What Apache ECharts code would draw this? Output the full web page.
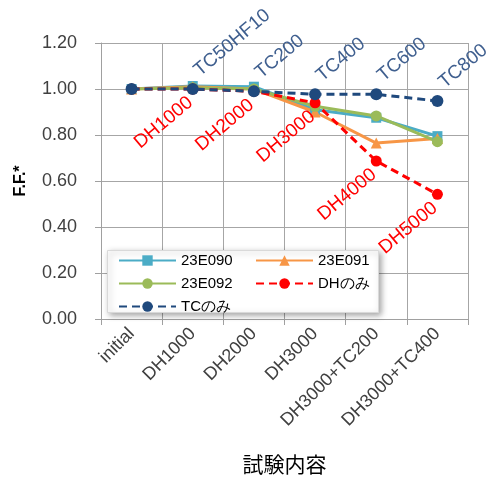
<!DOCTYPE html>
<html>
<head>
<meta charset="utf-8">
<script src="https://cdn.jsdelivr.net/npm/echarts@6/dist/echarts.min.js"></script>
<style>
html,body{margin:0;padding:0;background:#fff;}
#chart{width:494px;height:481px;}
</style>
</head>
<body>
<div id="chart"></div>
<script>
const categories = ['initial', 'DH1000', 'DH2000', 'DH3000', 'DH3000+TC200', 'DH3000+TC400'];
const s23E090 = [1.00, 1.013, 1.01, 0.91, 0.875, 0.795];
const s23E091 = [1.00, 1.01, 1.00, 0.90, 0.765, 0.785];
const s23E092 = [1.00, 1.005, 1.00, 0.925, 0.883, 0.771];
const dhOnly = [1.00, 1.00, 0.99, 0.94, 0.687, 0.542];
const tcOnly = [1.00, 1.00, 0.99, 0.977, 0.977, 0.948];
const dhLabels = ['', 'DH1000', 'DH2000', 'DH3000', 'DH4000', 'DH5000'];
const tcLabels = ['', 'TC50HF10', 'TC200', 'TC400', 'TC600', 'TC800'];

const FONT = 'Liberation Sans';
const chart = echarts.init(document.getElementById('chart'), null, {renderer: 'canvas'});

chart.setOption({
  animation: false,
  backgroundColor: '#fff',
  textStyle: {fontFamily: FONT},
  grid: {left: 101, right: 26, top: 43, bottom: 162, containLabel: false},
  graphic: [{
    type: 'rect', z: 5,
    shape: {x: 107.5, y: 250.5, width: 271, height: 62},
    style: {fill: '#fff', stroke: '#D9D9D9', lineWidth: 1,
      shadowBlur: 6, shadowColor: 'rgba(0,0,0,0.35)', shadowOffsetX: 2, shadowOffsetY: 2}
  }],
  legend: {
    z: 6,
    left: 118, top: 253, width: 270, padding: 0,
    itemWidth: 57, itemHeight: 13, itemGap: 8,
    textStyle: {fontFamily: FONT, fontSize: 15, color: '#000', width: 66, lineHeight: 13},
    data: ['23E090', '23E091', '23E092', 'DHのみ', 'TCのみ']
  },
  xAxis: {
    type: 'category',
    data: categories,
    boundaryGap: true,
    name: '試験内容',
    nameLocation: 'middle',
    nameGap: 135,
    nameTextStyle: {fontFamily: 'Noto Sans CJK JP', fontSize: 21, color: '#000'},
    axisLine: {lineStyle: {color: '#A0A0A0', width: 1}},
    axisTick: {show: true, length: 6, alignWithLabel: false, lineStyle: {color: '#A0A0A0'}},
    splitLine: {show: true, lineStyle: {color: '#A6A6A6', width: 1}},
    axisLabel: {rotate: 45, fontFamily: FONT, fontSize: 18, color: '#404040', margin: 12, interval: 0}
  },
  yAxis: {
    type: 'value',
    min: 0, max: 1.2, interval: 0.2,
    name: 'F.F.*',
    nameLocation: 'middle',
    nameGap: 72,
    nameTextStyle: {fontFamily: FONT, fontSize: 16, fontWeight: 'bold', color: '#000'},
    axisLine: {show: true, lineStyle: {color: '#A0A0A0', width: 1}},
    axisTick: {show: true, length: 6, lineStyle: {color: '#A0A0A0'}},
    splitLine: {show: true, lineStyle: {color: '#A6A6A6', width: 1}},
    axisLabel: {fontFamily: FONT, fontSize: 18, color: '#404040', margin: 24,
      formatter: v => v.toFixed(2)}
  },
  series: [
    {name: '23E090', type: 'line', data: s23E090, symbol: 'rect', symbolSize: 10,
      lineStyle: {width: 3, color: '#4BACC6'}, itemStyle: {color: '#4BACC6'}},
    {name: '23E091', type: 'line', data: s23E091, symbol: 'triangle', symbolSize: 11,
      lineStyle: {width: 3, color: '#F79646'}, itemStyle: {color: '#F79646'}},
    {name: '23E092', type: 'line', data: s23E092, symbol: 'circle', symbolSize: 11,
      lineStyle: {width: 3, color: '#9BBB59'}, itemStyle: {color: '#9BBB59'}},
    {name: 'DHのみ', type: 'line', data: dhOnly, symbol: 'circle', symbolSize: 11,
      lineStyle: {width: 3, color: '#FF0000', type: [8, 5]}, itemStyle: {color: '#FF0000'},
      label: {show: true, position: [-3, 9.5], rotate: 40, align: 'right', verticalAlign: 'top',
        fontFamily: FONT, fontSize: 19, color: '#FF0000',
        formatter: p => dhLabels[p.dataIndex]}},
    {name: 'TCのみ', type: 'line', data: tcOnly, symbol: 'circle', symbolSize: 12,
      lineStyle: {width: 3, color: '#1F497D', type: [8, 5]}, itemStyle: {color: '#1F497D'},
      label: {show: true, position: [16, -3], rotate: 40, align: 'left', verticalAlign: 'bottom',
        fontFamily: FONT, fontSize: 19, color: '#3F5F8F',
        formatter: p => tcLabels[p.dataIndex]}}
  ]
});
</script>
</body>
</html>
